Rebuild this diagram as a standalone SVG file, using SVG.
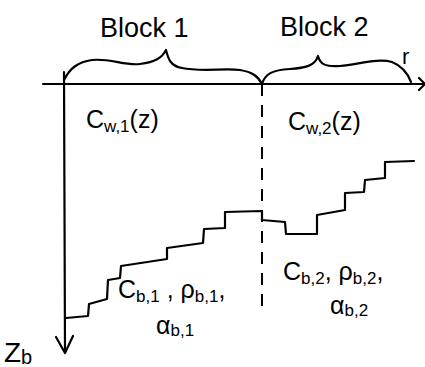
<svg xmlns="http://www.w3.org/2000/svg" width="425" height="367" viewBox="0 0 425 367">
<style>
.ln{fill:none;stroke:#000;stroke-width:2.2;stroke-linecap:round;stroke-linejoin:round}
.dash{fill:none;stroke:#000;stroke-width:2;stroke-dasharray:12 9}
.t{font-family:"Liberation Sans",Arial,sans-serif;fill:#000}
</style>
<rect width="425" height="367" fill="#fff"/>
<g id="connectors">
<path class="ln" d="M43,84 L425,84"/>
<path class="ln" d="M419,78 L425,84 L419,90"/>
<path class="ln" d="M64,72 L65,352"/>
<path class="ln" d="M56,337 L65,353 L73,336"/>
<path class="dash" d="M262,84 L262,312"/>
</g>
<g id="brace1">
<path class="ln" d="M64,80 C70,68 78,62 92,60 C110,58 125,66 140,64 C155,62 162,58 166,50 C168,58 170,66 182,68 C200,72 225,68 240,70 C252,72 258,76 262,84"/>
</g>
<g id="brace2">
<path class="ln" d="M262,84 C265,74 272,70 290,69 C305,68 315,66 318,56 C320,64 325,67 340,66 C360,64 378,58 392,62 C402,66 408,74 411,82"/>
</g>
<g id="labels">
<text class="t" x="100" y="37" font-size="27">Block 1</text>
<text class="t" x="280" y="36" font-size="27">Block 2</text>
<text class="t" x="402" y="64" font-size="22">r</text>
<text class="t" x="86" y="128" font-size="25">C<tspan font-size="17" dy="4">w,1</tspan><tspan dy="-4">(z)</tspan></text>
<text class="t" x="288" y="130" font-size="25">C<tspan font-size="17" dy="4">w,2</tspan><tspan dy="-4">(z)</tspan></text>
<text class="t" x="118" y="298" font-size="25">C<tspan font-size="17" dy="4">b,1</tspan><tspan dy="-4"> , ρ</tspan><tspan font-size="17" dy="4">b,1</tspan><tspan dy="-4">,</tspan></text>
<text class="t" x="156" y="334" font-size="25">α<tspan font-size="17" dy="2">b,1</tspan></text>
<text class="t" x="283" y="280" font-size="25">C<tspan font-size="17" dy="4">b,2</tspan><tspan dy="-4">, ρ</tspan><tspan font-size="17" dy="4">b,2</tspan><tspan dy="-4">,</tspan></text>
<text class="t" x="330" y="314" font-size="25">α<tspan font-size="17" dy="2">b,2</tspan></text>
<text class="t" x="4" y="362" font-size="28">Z<tspan font-size="20" dy="2">b</tspan></text>
</g>
<g id="profile">
<path class="ln" d="M66,318 L88,316 L89,304 L107,299 L108,280 L120,278 L121,266 L167,259 L167,248 L203,243 L204,229 L225,228 L225,212 L262,211 L262,220 L285,222 L286,234 L317,234 L317,215 L345,210 L345,193 L364,192 L365,180 L385,178 L385,162 L414,161"/>
</g>
</svg>
